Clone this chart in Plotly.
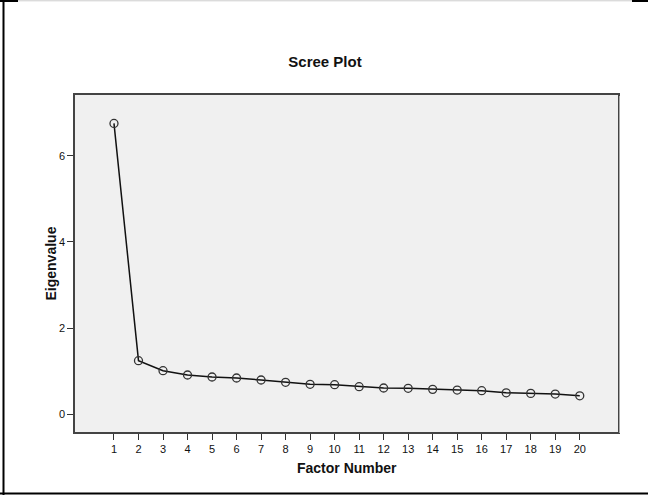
import plotly.graph_objects as go

# Data
factor_numbers = list(range(1, 21))
eigenvalues = [6.75, 1.245, 1.013, 0.913, 0.866, 0.843, 0.797, 0.743, 0.697, 0.688,
               0.641, 0.611, 0.604, 0.580, 0.564, 0.548, 0.500, 0.486, 0.470, 0.430]
y_ticks = [0, 2, 4, 6]
title_text = "Scree Plot"
x_title = "Factor Number"
y_title = "Eigenvalue"

W, H = 648, 495
L, R, T, B = 75, 30, 95, 63
PW = W - L - R
PH = H - T - B


def px_x(p):
    return (p - L) / PW


def px_y(p):
    return (H - B - p) / PH


FONT = "Liberation Sans, Arial, sans-serif"

fig = go.Figure()
fig.add_trace(go.Scatter(
    x=factor_numbers, y=eigenvalues,
    mode="lines+markers",
    line=dict(color="#111111", width=1.5),
    marker=dict(symbol="circle-open", size=8, color="#333333",
                line=dict(color="#333333", width=1.3)),
    showlegend=False,
))

shapes = [
    # left border
    dict(type="line", xref="paper", yref="paper",
         x0=px_x(3.5), x1=px_x(3.5), y0=px_y(0), y1=px_y(H),
         line=dict(color="black", width=2)),
    # bottom border
    dict(type="line", xref="paper", yref="paper",
         x0=px_x(0), x1=px_x(W), y0=px_y(493.5), y1=px_y(493.5),
         line=dict(color="black", width=2)),
    # top faint line
    dict(type="line", xref="paper", yref="paper",
         x0=px_x(0), x1=px_x(W), y0=px_y(0.8), y1=px_y(0.8),
         line=dict(color="#cccccc", width=1)),
    # top corner segments
    dict(type="line", xref="paper", yref="paper",
         x0=px_x(0), x1=px_x(18), y0=px_y(1), y1=px_y(1),
         line=dict(color="black", width=2)),
    dict(type="line", xref="paper", yref="paper",
         x0=px_x(632), x1=px_x(W), y0=px_y(1), y1=px_y(1),
         line=dict(color="black", width=2)),
    # subtle frame shadow
    dict(type="line", xref="paper", yref="paper",
         x0=px_x(619.5), x1=px_x(619.5), y0=px_y(96), y1=px_y(433),
         line=dict(color="#aaaaaa", width=1)),
]

fig.update_layout(
    width=W, height=H,
    margin=dict(l=L, r=R, t=T, b=B, pad=0),
    paper_bgcolor="white",
    plot_bgcolor="#F0F0F0",
    font=dict(family=FONT, color="#111111"),
    title=dict(text="<b>" + title_text + "</b>", x=325 / W, xref="container",
               xanchor="center", y=1 - 62 / H, yref="container", yanchor="middle",
               font=dict(size=15, family=FONT, color="#111111")),
    shapes=shapes,
    annotations=[
        dict(text="<b>" + x_title + "</b>", xref="paper", yref="paper",
             x=0.5, y=px_y(468), xanchor="center", yanchor="middle",
             showarrow=False, font=dict(size=14, family=FONT, color="#111111")),
        dict(text="<b>" + y_title + "</b>", xref="paper", yref="paper",
             x=px_x(50), y=0.5, xanchor="center", yanchor="middle",
             textangle=-90, showarrow=False,
             font=dict(size=14, family=FONT, color="#111111")),
    ],
)

fig.update_xaxes(
    range=[-0.59, 21.56],
    tickmode="array", tickvals=factor_numbers,
    ticktext=[str(v) for v in factor_numbers],
    ticks="outside", ticklen=6, tickwidth=1, tickcolor="#333333",
    tickfont=dict(size=11, family=FONT, color="#111111"),
    showgrid=False, zeroline=False,
    showline=True, linecolor="#444444", linewidth=1.5, mirror=True,
)
fig.update_yaxes(
    range=[-0.41, 7.41],
    tickmode="array", tickvals=y_ticks,
    ticktext=[str(v) for v in y_ticks],
    ticks="outside", ticklen=6, tickwidth=1, tickcolor="#333333",
    tickfont=dict(size=11, family=FONT, color="#111111"),
    showgrid=False, zeroline=False,
    showline=True, linecolor="#444444", linewidth=1.5, mirror=True,
)

fig.write_html("out.html",
               config={"displayModeBar": False},
               post_script="document.body.style.margin='0';document.body.style.padding='0';")
